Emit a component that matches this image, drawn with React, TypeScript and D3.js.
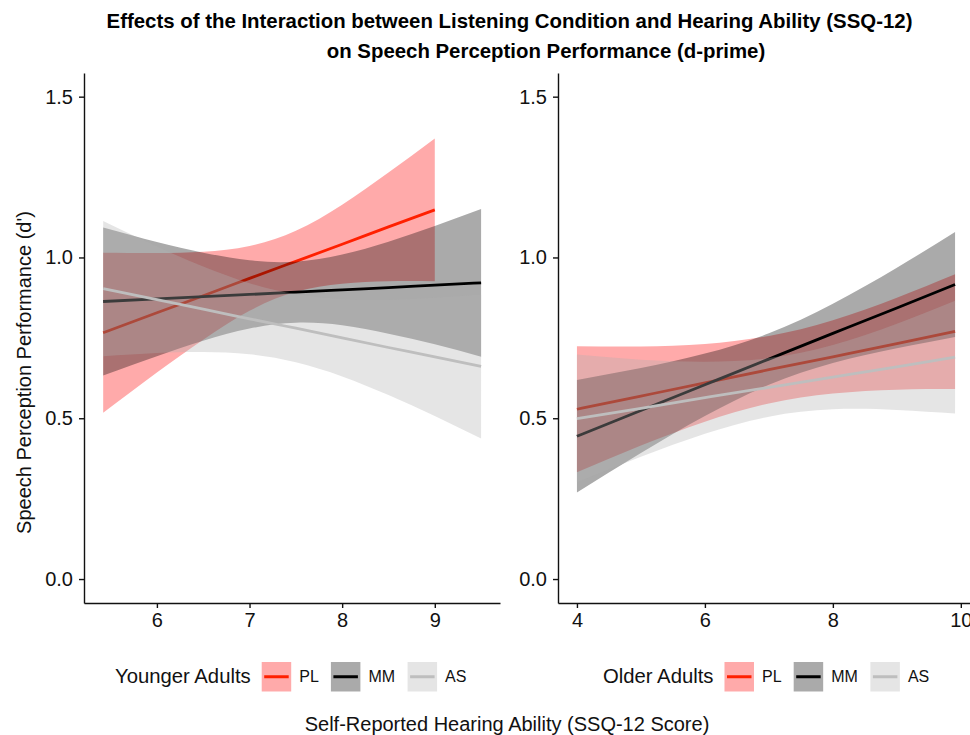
import React, { useEffect, useRef } from 'react';
import * as d3 from 'd3';

// listening conditions (draw order: PL, MM, AS)
const conditions = ['PL', 'MM', 'AS'];
const lineColors = ['#ff2000', '#000000', '#bebebe'];
const bandColors = ['#ff0000', '#000000', '#b0b0b0'];

// ---- Younger adults (SSQ-12 score vs d') ----
const ssqYoungPL = [5.42, 6, 6.5, 7, 7.5, 8, 8.5, 9];
const fitYoungPL = [0.766, 0.828, 0.881, 0.935, 0.988, 1.041, 1.095, 1.148];
const upperYoungPL = [1.015, 1.014, 1.018, 1.036, 1.083, 1.164, 1.264, 1.37];
const lowerYoungPL = [0.517, 0.642, 0.744, 0.834, 0.893, 0.918, 0.926, 0.926];

const ssqYoung = [5.42, 6, 6.5, 7, 7.5, 8, 8.5, 9, 9.5];
const fitYoungMM = [0.863, 0.871, 0.878, 0.885, 0.892, 0.899, 0.906, 0.914, 0.921];
const upperYoungMM = [1.093, 1.048, 1.015, 0.991, 0.987, 1.009, 1.049, 1.098, 1.151];
const lowerYoungMM = [0.633, 0.693, 0.741, 0.779, 0.797, 0.789, 0.763, 0.73, 0.691];
const fitYoungAS = [0.903, 0.869, 0.839, 0.809, 0.78, 0.75, 0.72, 0.691, 0.661];
const upperYoungAS = [1.113, 1.034, 0.972, 0.92, 0.886, 0.87, 0.868, 0.875, 0.885];
const lowerYoungAS = [0.693, 0.703, 0.706, 0.699, 0.674, 0.63, 0.572, 0.507, 0.437];

// ---- Older adults ----
const ssqOld = [4, 5, 6, 7, 8, 9, 9.91];
const fitOldPL = [0.528, 0.569, 0.61, 0.651, 0.691, 0.732, 0.77];
const upperOldPL = [0.724, 0.723, 0.731, 0.756, 0.805, 0.875, 0.948];
const lowerOldPL = [0.332, 0.415, 0.489, 0.546, 0.577, 0.589, 0.591];
const fitOldMM = [0.444, 0.524, 0.604, 0.684, 0.764, 0.843, 0.916];
const upperOldMM = [0.619, 0.656, 0.701, 0.764, 0.856, 0.968, 1.079];
const lowerOldMM = [0.269, 0.392, 0.507, 0.604, 0.672, 0.718, 0.753];
const fitOldAS = [0.499, 0.531, 0.564, 0.596, 0.628, 0.66, 0.69];
const upperOldAS = [0.698, 0.682, 0.676, 0.687, 0.728, 0.794, 0.865];
const lowerOldAS = [0.301, 0.38, 0.452, 0.505, 0.528, 0.526, 0.515];

// ticks
const yTicks = [0, 0.5, 1.0, 1.5];
const youngTicks = [6, 7, 8, 9];
const oldTicks = [4, 6, 8, 10];

const FONT = 'Liberation Sans, Arial, Helvetica, sans-serif';

type Series = { ssq: number[]; fit: number[]; upper: number[]; lower: number[] };

const App = () => {
  const svgRef = useRef<SVGSVGElement>(null);

  useEffect(() => {
    const svg = d3.select(svgRef.current);
    svg.selectAll('*').remove();

    const top = 73;
    const bottom = 603;
    const y = d3.scaleLinear().domain([-0.0745, 1.5736]).range([bottom, top]);

    const panels = [
      {
        x: d3.scaleLinear().domain([5.213, 9.704]).range([84, 500]),
        ticks: youngTicks,
        title: 'Younger Adults',
        legendX: 115,
        series: [
          { ssq: ssqYoungPL, fit: fitYoungPL, upper: upperYoungPL, lower: lowerYoungPL },
          { ssq: ssqYoung, fit: fitYoungMM, upper: upperYoungMM, lower: lowerYoungMM },
          { ssq: ssqYoung, fit: fitYoungAS, upper: upperYoungAS, lower: lowerYoungAS },
        ] as Series[],
      },
      {
        x: d3.scaleLinear().domain([3.704, 10.206]).range([558, 974]),
        ticks: oldTicks,
        title: 'Older Adults',
        legendX: 603,
        series: [
          { ssq: ssqOld, fit: fitOldPL, upper: upperOldPL, lower: lowerOldPL },
          { ssq: ssqOld, fit: fitOldMM, upper: upperOldMM, lower: lowerOldMM },
          { ssq: ssqOld, fit: fitOldAS, upper: upperOldAS, lower: lowerOldAS },
        ] as Series[],
      },
    ];

    panels.forEach(p => {
      const g = svg.append('g');

      // ribbons + fitted lines, one group after another
      p.series.forEach((s, i) => {
        const pts = s.ssq.map((v, k) => ({ x: v, fit: s.fit[k], up: s.upper[k], lo: s.lower[k] }));
        const area = d3.area<any>()
          .x(d => p.x(d.x))
          .y0(d => y(d.lo))
          .y1(d => y(d.up))
          .curve(d3.curveNatural);
        const line = d3.line<any>()
          .x(d => p.x(d.x))
          .y(d => y(d.fit))
          .curve(d3.curveNatural);

        g.append('path')
          .datum(pts)
          .attr('d', area)
          .attr('fill', bandColors[i])
          .attr('fill-opacity', 0.333);
        g.append('path')
          .datum(pts)
          .attr('d', line)
          .attr('fill', 'none')
          .attr('stroke', lineColors[i])
          .attr('stroke-width', 2.8);
      });

      // axes
      const x0 = p.x.range()[0];
      const yAxis = g.append('g')
        .attr('transform', `translate(${x0},0)`)
        .call(d3.axisLeft(y).tickValues(yTicks).tickFormat(d3.format('.1f')).tickSize(5).tickPadding(6).tickSizeOuter(0));
      const xAxis = g.append('g')
        .attr('transform', `translate(0,${bottom})`)
        .call(d3.axisBottom(p.x).tickValues(p.ticks).tickFormat(d3.format('d')).tickSize(5).tickPadding(5).tickSizeOuter(0));
      [yAxis, xAxis].forEach(a => {
        a.attr('font-size', 20).attr('font-family', FONT).attr('color', '#111');
        a.selectAll('path, line').attr('stroke-width', 1.4);
      });

      // legend
      const legendY = 662;
      const title = svg.append('text')
        .attr('x', p.legendX)
        .attr('y', 683)
        .attr('font-size', 20.3)
        .attr('font-family', FONT)
        .attr('fill', '#111')
        .text(p.title);
      const tw = (title.node() as SVGTextElement).getComputedTextLength();
      const keyStart = p.legendX + tw + 11;
      const keyOffsets = [0, 69.2, 145.9];
      conditions.forEach((c, i) => {
        const kx = keyStart + keyOffsets[i];
        svg.append('rect')
          .attr('x', kx)
          .attr('y', legendY)
          .attr('width', 29.5)
          .attr('height', 29.5)
          .attr('fill', bandColors[i])
          .attr('fill-opacity', 0.333);
        svg.append('line')
          .attr('x1', kx + 2.5)
          .attr('x2', kx + 27)
          .attr('y1', legendY + 14.75)
          .attr('y2', legendY + 14.75)
          .attr('stroke', lineColors[i])
          .attr('stroke-width', 3);
        svg.append('text')
          .attr('x', kx + 29.5 + 8)
          .attr('y', 682)
          .attr('font-size', 16)
          .attr('font-family', FONT)
          .attr('fill', '#111')
          .text(c);
      });
    });

    // titles
    svg.append('text')
      .attr('x', 509.5)
      .attr('y', 28)
      .attr('text-anchor', 'middle')
      .attr('font-size', 20.4)
      .attr('font-weight', 'bold')
      .attr('font-family', FONT)
      .text('Effects of the Interaction between Listening Condition and Hearing Ability (SSQ-12)');
    svg.append('text')
      .attr('x', 546)
      .attr('y', 58)
      .attr('text-anchor', 'middle')
      .attr('font-size', 20.4)
      .attr('font-weight', 'bold')
      .attr('font-family', FONT)
      .text('on Speech Perception Performance (d-prime)');

    svg.append('text')
      .attr('transform', 'translate(31,372.5) rotate(-90)')
      .attr('text-anchor', 'middle')
      .attr('font-size', 20)
      .attr('font-family', FONT)
      .attr('fill', '#111')
      .text("Speech Perception Performance (d')");

    svg.append('text')
      .attr('x', 507)
      .attr('y', 731)
      .attr('text-anchor', 'middle')
      .attr('font-size', 20)
      .attr('font-family', FONT)
      .attr('fill', '#111')
      .text('Self-Reported Hearing Ability (SSQ-12 Score)');
  }, []);

  return (
    <svg
      ref={svgRef}
      width={970}
      height={735}
      style={{ position: 'absolute', left: 0, top: 0, background: '#fff' }}
    />
  );
};

export default App;
